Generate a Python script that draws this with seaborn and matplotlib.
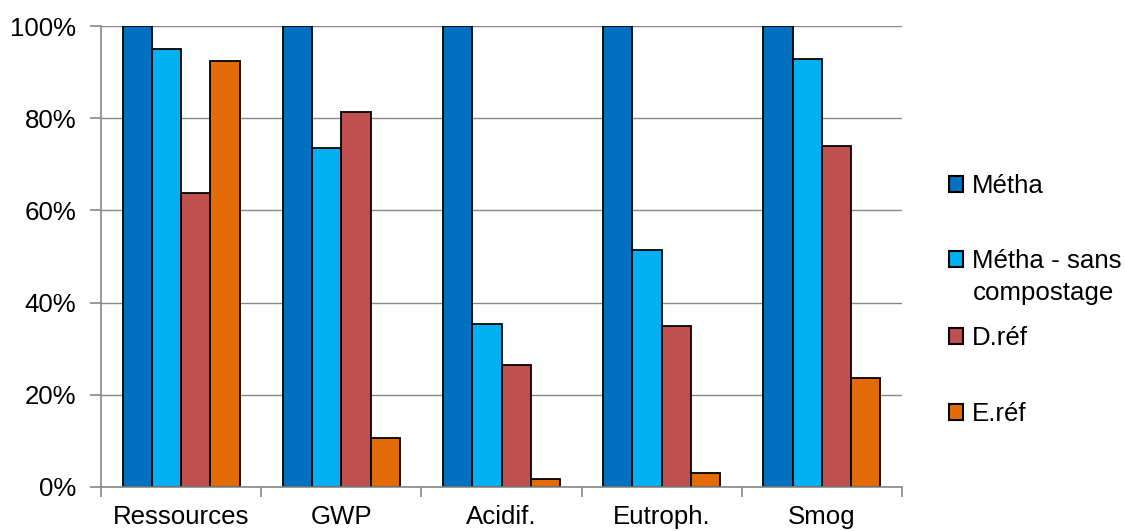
import matplotlib
matplotlib.use("Agg")
import matplotlib.pyplot as plt
import seaborn as sns
import pandas as pd
from matplotlib.ticker import FuncFormatter, FixedLocator

categories = ["Ressources", "GWP", "Acidif.", "Eutroph.", "Smog"]
series_names = ["Métha", "Métha - sans compostage", "D.réf", "E.réf"]
metha = [100, 100, 100, 100, 100]
metha_sans = [95.0, 73.5, 35.4, 51.4, 92.8]
d_ref = [63.8, 81.3, 26.5, 34.9, 74.0]
e_ref = [92.4, 10.6, 1.7, 3.0, 23.6]
colors = ["#0070C0", "#00B0F0", "#C0504D", "#E36C09"]

rows = []
for name, vals in zip(series_names, [metha, metha_sans, d_ref, e_ref]):
    for c, v in zip(categories, vals):
        rows.append({"cat": c, "serie": name, "val": v})
df = pd.DataFrame(rows)

sns.set_theme(style="white")
plt.rcParams["font.family"] = ["Liberation Sans", "DejaVu Sans"]
plt.rcParams["text.color"] = "black"

FS = 18.6

fig = plt.figure(figsize=(11.25, 5.31), dpi=100)
ax = fig.add_axes([0.0898, 0.0829, 0.8018 - 0.0898, 0.951 - 0.0829])

sns.barplot(data=df, x="cat", y="val", hue="serie", palette=colors,
            edgecolor="black", linewidth=1.3, width=0.73, ax=ax, saturation=1)

ax.set_ylim(0, 100)
ax.set_xlim(-0.5, 4.5)
ax.set_yticks([0, 20, 40, 60, 80, 100])
ax.yaxis.set_major_formatter(FuncFormatter(lambda v, p: f"{int(v)}%"))
ax.yaxis.grid(True, color="#888888", linewidth=1)
ax.set_axisbelow(True)
ax.set_xlabel("")
ax.set_ylabel("")
for s in ["top", "right"]:
    ax.spines[s].set_visible(False)
for s in ["left", "bottom"]:
    ax.spines[s].set_color("#888888")
    ax.spines[s].set_linewidth(1.2)

ax.tick_params(axis="y", labelsize=FS, length=8, width=1.2, color="#888888",
               left=True, pad=10, labelcolor="black")
ax.tick_params(axis="x", labelsize=FS, length=0, pad=13, labelcolor="black")
ax.xaxis.set_minor_locator(FixedLocator([-0.5, 0.5, 1.5, 2.5, 3.5, 4.5]))
ax.tick_params(axis="x", which="minor", length=7, width=1.2, color="#888888", bottom=True)

handles, labels = ax.get_legend_handles_labels()
ax.get_legend().remove()
# legend labels as shown (second one wraps onto a second line)
shown = ["Métha", "Métha - sans", "D.réf", "E.réf"]
ypos = [1 - 186 / 531, 1 - 261 / 531, 1 - 338 / 531, 1 - 414 / 531]
for h, lab, yy in zip(handles, shown, ypos):
    leg = fig.legend([h], [lab], loc="center left", bbox_to_anchor=(949 / 1125, yy),
                     bbox_transform=fig.transFigure, frameon=False, fontsize=FS,
                     handlelength=0.55, handleheight=0.55, handletextpad=0.35,
                     borderpad=0, borderaxespad=0)
    for t in leg.get_texts():
        t.set_color("black")
    for lh in leg.legend_handles:
        lh.set_edgecolor("black")
        lh.set_linewidth(1.5)
fig.text(1044 / 1125, 1 - 300 / 531, "compostage", ha="center", va="baseline",
         fontsize=FS, color="black")

fig.savefig("out.png", dpi=100)
